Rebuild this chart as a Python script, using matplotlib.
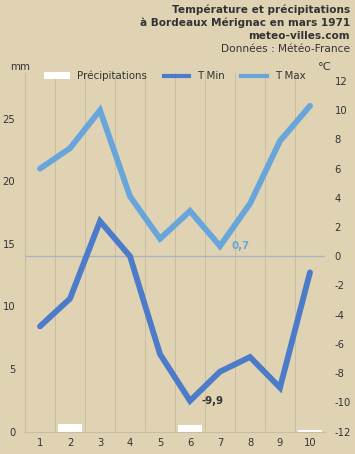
import matplotlib
matplotlib.use('Agg')
import matplotlib.pyplot as plt
from matplotlib.patches import Patch
from matplotlib.lines import Line2D

days = [1, 2, 3, 4, 5, 6, 7, 8, 9, 10]
precip = [0.0, 0.6, 0.0, 0.0, 0.0, 0.5, 0.0, 0.0, 0.0, 0.1]
t_min = [-4.8, -2.9, 2.4, 0.0, -6.7, -9.9, -7.9, -6.9, -9.0, -1.1]
t_max = [6.0, 7.4, 10.0, 4.1, 1.2, 3.1, 0.7, 3.6, 7.9, 10.3]
mm_ticks = [0, 5, 10, 15, 20, 25]
temp_ticks = list(range(-12, 13, 2))

title_lines = ["Température et précipitations",
               "à Bordeaux Mérignac en mars 1971",
               "meteo-villes.com"]
source = "Données : Météo-France"

BG = "#e0d3b4"
GRID = "#cbbd9f"
TXT = "#333333"
C_MIN = "#4b7bc9"
C_MAX = "#67a5da"

plt.rcParams['font.family'] = ['DejaVu Sans']
plt.rcParams['font.size'] = 7.4
plt.rcParams['axes.unicode_minus'] = False

fig = plt.figure(figsize=(3.55, 4.54), dpi=100, facecolor=BG)
ax = fig.add_axes([25 / 355, 22.5 / 454, 300 / 355, 358.5 / 454])
ax.set_facecolor(BG)
ax2 = ax.twinx()

# precipitation bars (left axis)
ax.bar(days, precip, width=0.83, color="white", zorder=2)
t_top = 12.55
ax.set_ylim(0, (t_top + 12) * 14 / 12)
ax.set_xlim(0.5, 10.5)
ax.set_yticks(mm_ticks)
ax.set_xticks(days)
ax.tick_params(axis="y", length=0, pad=7, colors=TXT, labelsize=7.2)
ax.tick_params(axis="x", length=0, pad=5, colors=TXT, labelsize=7.2)
for x in range(0, 11):
    ax.axvline(x + 0.5, color=GRID, lw=0.7, zorder=1)
for s in ["top", "right"]:
    ax.spines[s].set_visible(False)
ax.spines["left"].set_color(GRID)
ax.spines["bottom"].set_color(GRID)

# temperatures (right axis)
ax2.set_ylim(-12, t_top)
ax2.set_yticks(temp_ticks)
ax2.tick_params(axis="y", length=0, pad=7, colors=TXT, labelsize=7.2)
for s in ["top", "left", "bottom", "right"]:
    ax2.spines[s].set_visible(False)
ax2.axhline(0, color="#a9b3ba", lw=1, zorder=1)
ax2.plot(days, t_max, color=C_MAX, lw=4.2, solid_capstyle="round",
         solid_joinstyle="miter", zorder=3)
ax2.plot(days, t_min, color=C_MIN, lw=4.2, solid_capstyle="round",
         solid_joinstyle="miter", zorder=3)

i_min = t_min.index(min(t_min))
i_max = t_max.index(min(t_max))
ax2.annotate(f"{t_min[i_min]:.1f}".replace(".", ","), (days[i_min], t_min[i_min]),
             xytext=(8, 0), textcoords="offset points", va="center",
             fontweight="bold", color=TXT)
ax2.annotate(f"{t_max[i_max]:.1f}".replace(".", ","), (days[i_max], t_max[i_max]),
             xytext=(8, 0), textcoords="offset points", va="center",
             fontweight="bold", color=C_MAX)

# titles
for k, line in enumerate(title_lines):
    fig.text(350 / 355, 1 - (10 + 13 * k) / 454, line, ha="right", va="center",
             fontweight="bold", color=TXT, fontsize=7.6)
fig.text(350 / 355, 1 - 49 / 454, source, ha="right", va="center",
         color=TXT, fontsize=7.6)
fig.text(10 / 355, 1 - 67 / 454, "mm", ha="left", va="center", color=TXT)
fig.text(318 / 355, 1 - 67 / 454, "°C", ha="left", va="center", color=TXT,
         fontsize=8.2)

handles = [Patch(facecolor="white", edgecolor="none"),
           Line2D([], [], color=C_MIN, lw=3),
           Line2D([], [], color=C_MAX, lw=3)]
fig.legend(handles, ["Précipitations", "T Min", "T Max"], ncol=3,
           loc="center left", bbox_to_anchor=(44 / 355, 1 - 76 / 454),
           bbox_transform=fig.transFigure, frameon=False, borderpad=0,
           borderaxespad=0, handlelength=2.5, handletextpad=0.75,
           columnspacing=1.6, handleheight=0.6, labelcolor=TXT)

fig.savefig("out.png", dpi=100, facecolor=BG)
